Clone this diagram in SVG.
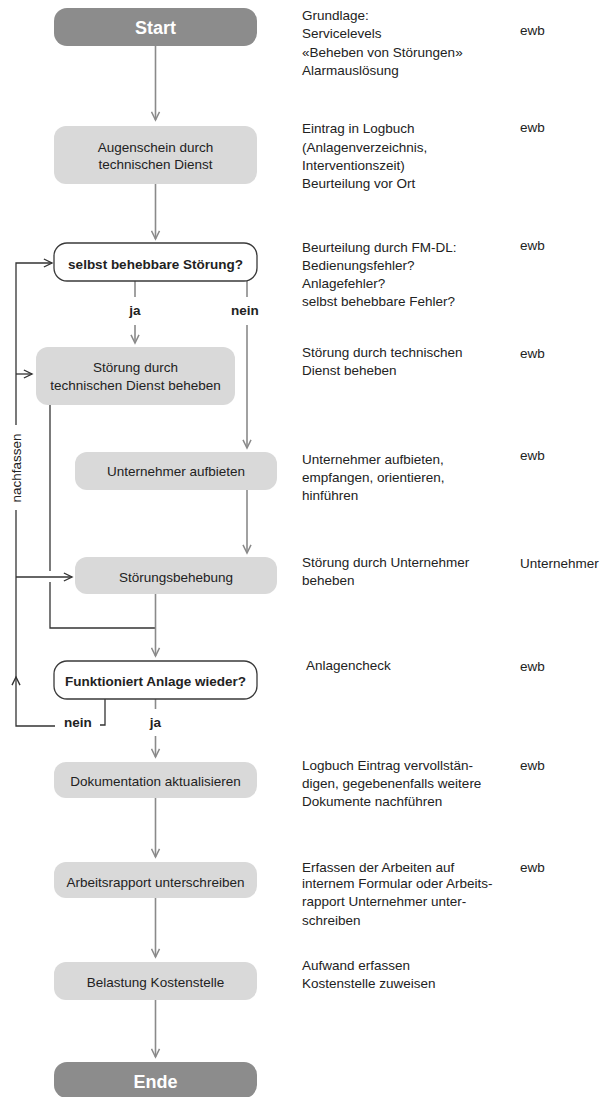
<svg xmlns="http://www.w3.org/2000/svg" width="612" height="1097" viewBox="0 0 612 1097">
<style>
  .term { fill: #8c8c8c; }
  .term-t { font-family: "Liberation Sans", Arial, sans-serif; font-size: 18px; font-weight: bold; fill: #ffffff; text-anchor: middle; }
  .proc { fill: #d9d9d9; }
  .dec { fill: #ffffff; stroke: #3a3a3a; stroke-width: 1.3; }
  .t { font-family: "Liberation Sans", Arial, sans-serif; font-size: 13.5px; fill: #222; text-anchor: middle; }
  .tb { font-family: "Liberation Sans", Arial, sans-serif; font-size: 13.5px; font-weight: bold; fill: #222; text-anchor: middle; }
  .side { font-family: "Liberation Sans", Arial, sans-serif; font-size: 13.5px; fill: #222; }
  .g { fill: none; stroke: #8a8a8a; stroke-width: 1.6; }
  .d { fill: none; stroke: #333; stroke-width: 1.3; }
</style>
<defs>
  <marker id="ag" markerUnits="userSpaceOnUse" markerWidth="12" markerHeight="10" refX="7" refY="4" orient="auto" viewBox="0 0 8 8">
    <path d="M0.5,0.8 L7,4 L0.5,7.2" fill="none" stroke="#8a8a8a" stroke-width="1.2"/>
  </marker>
  <marker id="ad" markerUnits="userSpaceOnUse" markerWidth="12" markerHeight="10" refX="7" refY="4" orient="auto" viewBox="0 0 8 8">
    <path d="M0.5,0.8 L7,4 L0.5,7.2" fill="none" stroke="#333" stroke-width="1.1"/>
  </marker>
</defs>

<g id="connectors">
  <path class="g" d="M155.5,46 V120" marker-end="url(#ag)"/>
  <path class="g" d="M155.5,184 V239" marker-end="url(#ag)"/>
  <path class="g" d="M135,281 V297"/>
  <path class="g" d="M135,325 V343" marker-end="url(#ag)"/>
  <path class="g" d="M247,281 V297"/>
  <path class="g" d="M247,325 V448" marker-end="url(#ag)"/>
  <path class="g" d="M247,490 V553" marker-end="url(#ag)"/>
  <path class="d" d="M50,405 V571"/>
  <path class="d" d="M50,582 V628 H155.5"/>
  <path class="g" d="M155.5,594 V656" marker-end="url(#ag)"/>
  <path class="d" d="M105,699 V725 H100"/>
  <path class="d" d="M55,726 H16 V677" marker-end="url(#ad)"/>
  <path class="d" d="M16,678 V510"/>
  <path class="d" d="M16,425 V263 H52" marker-end="url(#ad)"/>
  <path class="d" d="M16,374 H32" marker-end="url(#ad)"/>
  <path class="d" d="M16,577 H72" marker-end="url(#ad)"/>
  <path class="g" d="M155.5,699 V709"/>
  <path class="g" d="M155.5,736 V757" marker-end="url(#ag)"/>
  <path class="g" d="M155.5,798 V857" marker-end="url(#ag)"/>
  <path class="g" d="M155.5,898 V957" marker-end="url(#ag)"/>
  <path class="g" d="M155.5,1000 V1057" marker-end="url(#ag)"/>
  <text class="tb" x="135" y="314.5">ja</text>
  <text class="tb" x="245" y="314.5">nein</text>
  <text class="tb" x="78" y="727">nein</text>
  <text class="tb" x="155.5" y="727">ja</text>
  <text class="t" transform="translate(20.5,468) rotate(-90)">nachfassen</text>
</g>

<g id="start">
  <rect class="term" x="54" y="8" width="203" height="38" rx="13"/>
  <text class="term-t" x="155.5" y="33.5">Start</text>
</g>
<g id="augenschein">
  <rect class="proc" x="54" y="126" width="203" height="58" rx="12"/>
  <text class="t" x="155.5" y="151.5">Augenschein durch</text>
  <text class="t" x="155.5" y="169">technischen Dienst</text>
</g>
<g id="selbst">
  <rect class="dec" x="54" y="243" width="203" height="38" rx="13"/>
  <text class="tb" x="155.5" y="268.5">selbst behebbare Störung?</text>
</g>
<g id="stoerung-tech">
  <rect class="proc" x="36" y="347" width="199" height="58" rx="12"/>
  <text class="t" x="135.5" y="371.5">Störung durch</text>
  <text class="t" x="135.5" y="389.5">technischen Dienst beheben</text>
</g>
<g id="unternehmer">
  <rect class="proc" x="75" y="452" width="202" height="38" rx="12"/>
  <text class="t" x="176" y="475.5">Unternehmer aufbieten</text>
</g>
<g id="stoerungsbehebung">
  <rect class="proc" x="75" y="557" width="202" height="37" rx="12"/>
  <text class="t" x="176" y="581.5">Störungsbehebung</text>
</g>
<g id="funktioniert">
  <rect class="dec" x="54" y="661" width="203" height="38" rx="13"/>
  <text class="tb" x="155.5" y="685.5">Funktioniert Anlage wieder?</text>
</g>
<g id="dokumentation">
  <rect class="proc" x="54" y="762" width="203" height="36" rx="12"/>
  <text class="t" x="155.5" y="785.5">Dokumentation aktualisieren</text>
</g>
<g id="arbeitsrapport">
  <rect class="proc" x="54" y="862" width="203" height="36" rx="12"/>
  <text class="t" x="155.5" y="886.5">Arbeitsrapport unterschreiben</text>
</g>
<g id="belastung">
  <rect class="proc" x="54" y="962" width="203" height="38" rx="12"/>
  <text class="t" x="155.5" y="986.5">Belastung Kostenstelle</text>
</g>
<g id="ende">
  <rect class="term" x="54" y="1062" width="203" height="36" rx="13"/>
  <text class="term-t" x="155.5" y="1088">Ende</text>
</g>

<g id="notes">
  <text class="side" x="302" y="19.5">Grundlage:</text>
  <text class="side" x="302" y="38">Servicelevels</text>
  <text class="side" x="302" y="56.5">«Beheben von Störungen»</text>
  <text class="side" x="302" y="75">Alarmauslösung</text>
  <text class="side" x="520" y="34.5">ewb</text>

  <text class="side" x="302" y="132.5">Eintrag in Logbuch</text>
  <text class="side" x="302" y="151.5">(Anlagenverzeichnis,</text>
  <text class="side" x="302" y="169.5">Interventionszeit)</text>
  <text class="side" x="302" y="187.5">Beurteilung vor Ort</text>
  <text class="side" x="520" y="131.5">ewb</text>

  <text class="side" x="302" y="251.5">Beurteilung durch FM-DL:</text>
  <text class="side" x="302" y="269.5">Bedienungsfehler?</text>
  <text class="side" x="302" y="287.5">Anlagefehler?</text>
  <text class="side" x="302" y="305.5">selbst behebbare Fehler?</text>
  <text class="side" x="520" y="249.5">ewb</text>

  <text class="side" x="302" y="356.5">Störung durch technischen</text>
  <text class="side" x="302" y="374.5">Dienst beheben</text>
  <text class="side" x="520" y="357.5">ewb</text>

  <text class="side" x="302" y="463.5">Unternehmer aufbieten,</text>
  <text class="side" x="302" y="482">empfangen, orientieren,</text>
  <text class="side" x="302" y="499.5">hinführen</text>
  <text class="side" x="520" y="459.5">ewb</text>

  <text class="side" x="302" y="566.5">Störung durch Unternehmer</text>
  <text class="side" x="302" y="584.5">beheben</text>
  <text class="side" x="520" y="567.5">Unternehmer</text>

  <text class="side" x="306" y="669.5">Anlagencheck</text>
  <text class="side" x="520" y="670.5">ewb</text>

  <text class="side" x="302" y="769.5">Logbuch Eintrag vervollstän-</text>
  <text class="side" x="302" y="787.5">digen, gegebenenfalls weitere</text>
  <text class="side" x="302" y="805.5">Dokumente nachführen</text>
  <text class="side" x="520" y="769.5">ewb</text>

  <text class="side" x="302" y="871.5">Erfassen der Arbeiten auf</text>
  <text class="side" x="302" y="887.5">internem Formular oder Arbeits-</text>
  <text class="side" x="302" y="906">rapport Unternehmer unter-</text>
  <text class="side" x="302" y="925">schreiben</text>
  <text class="side" x="520" y="871.5">ewb</text>

  <text class="side" x="302" y="969.5">Aufwand erfassen</text>
  <text class="side" x="302" y="987.5">Kostenstelle zuweisen</text>
</g>
</svg>
